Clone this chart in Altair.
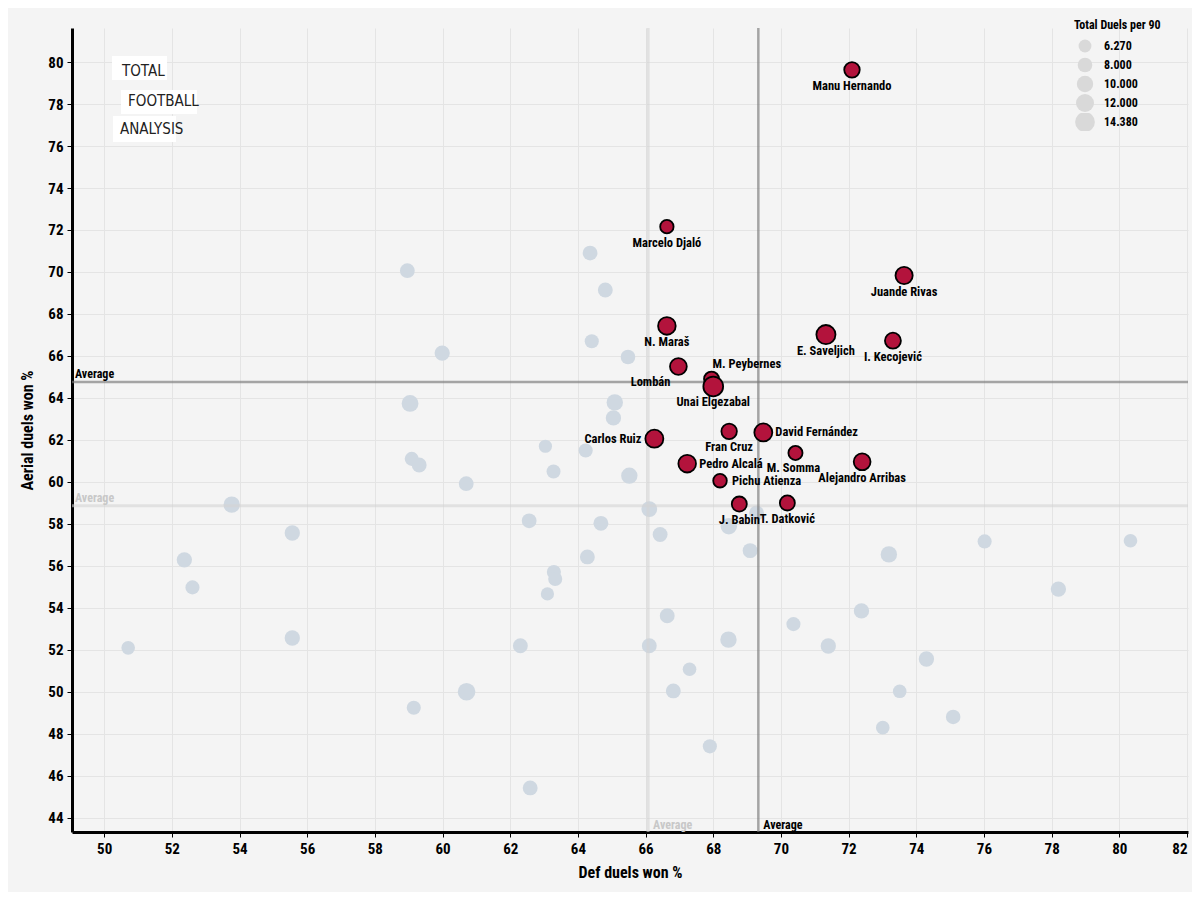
import altair as alt
import pandas as pd

# ---- grey (all other players) ----
gray_x = [58.96, 64.36, 64.81, 64.41, 59.99, 65.48, 59.04, 65.09, 65.05, 63.04,
          64.23, 59.09, 59.31, 63.28, 65.52, 60.70, 66.11, 62.56, 64.68, 66.43,
          53.77, 55.56, 52.37, 52.61, 50.71, 55.56, 59.15, 60.71, 64.28, 63.29,
          63.33, 63.10, 68.46, 69.09, 69.28, 70.37, 66.64, 62.30, 66.11, 68.45,
          67.30, 66.82, 67.90, 62.59, 73.19, 76.02, 80.33, 78.20, 72.38, 71.40,
          74.30, 73.51, 75.09, 73.01]
gray_y = [70.06, 70.90, 69.14, 66.70, 66.14, 65.95, 63.74, 63.79, 63.05, 61.70,
          61.50, 61.10, 60.81, 60.50, 60.30, 59.92, 58.71, 58.15, 58.03, 57.50,
          58.92, 57.57, 56.29, 54.98, 52.10, 52.57, 49.25, 50.01, 56.43, 55.71,
          55.38, 54.67, 57.89, 56.73, 58.52, 53.23, 53.63, 52.20, 52.20, 52.49,
          51.08, 50.05, 47.41, 45.43, 56.55, 57.17, 57.20, 54.90, 53.86, 52.19,
          51.57, 50.03, 48.81, 48.30]
gray_size = [8.2, 8.2, 8.3, 7.5, 8.7, 8.0, 10.5, 10.0, 8.8, 6.6,
             7.5, 7.5, 8.3, 7.4, 10.0, 8.2, 9.3, 8.2, 8.3, 8.3,
             10.0, 8.8, 8.8, 7.5, 7.0, 8.8, 7.5, 11.5, 8.3, 7.5,
             7.5, 6.6, 10.0, 8.3, 8.3, 7.5, 8.3, 8.3, 8.3, 10.0,
             7.0, 8.3, 7.5, 8.3, 10.0, 7.5, 7.0, 8.8, 8.8, 8.8,
             8.8, 7.0, 8.0, 7.0]

# ---- highlighted players ----
names = ["Manu Hernando", "Marcelo Djaló", "Juande Rivas", "N. Maraš", "E. Saveljich",
         "I. Kecojević", "Lombán", "M. Peybernes", "Unai Elgezabal", "Carlos Ruiz",
         "Fran Cruz", "David Fernández", "M. Somma", "Alejandro Arribas", "Pedro Alcalá",
         "Pichu Atienza", "J. Babin", "T. Datković"]
red_x = [72.10, 66.63, 73.64, 66.63, 71.33, 73.31, 66.97, 67.95, 68.00, 66.26,
         68.47, 69.48, 70.43, 72.40, 67.23, 68.20, 68.77, 70.19]
red_y = [79.63, 72.16, 69.83, 67.43, 67.02, 66.73, 65.50, 64.90, 64.55, 62.06,
         62.41, 62.36, 61.38, 60.96, 60.87, 60.06, 58.95, 59.00]
red_size = [9.0, 6.8, 11.0, 11.5, 13.5, 9.5, 10.5, 8.5, 14.38, 12.0,
            9.0, 12.0, 7.5, 10.5, 11.5, 7.0, 8.5, 8.5]
label_pos = ["below", "below", "below", "below", "below",
             "below", "below_left", "above_right", "below", "left",
             "below", "right", "below_l", "below", "right",
             "right", "below", "below"]

legend_values = [6.27, 8, 10, 12, 14.38]

gray_df = pd.DataFrame({"x": gray_x, "y": gray_y, "size": gray_size})
red_df = pd.DataFrame({"name": names, "x": red_x, "y": red_y, "size": red_size, "pos": label_pos})
all_df = pd.concat([gray_df, red_df[["x", "y", "size"]]], ignore_index=True)

FONT = "Liberation Sans Narrow, Roboto Condensed, DejaVu Sans Condensed, sans-serif"
W, H = 1116, 804

xscale = alt.Scale(domain=[49.05, 82.03], nice=False, zero=False)
yscale = alt.Scale(domain=[43.33, 81.62], nice=False, zero=False)
sscale = alt.Scale(domain=[6.27, 14.38], range=[165, 390], zero=False)

xaxis = alt.Axis(title="Def duels won %", values=list(range(50, 83, 2)), labelFlush=4)
yaxis = alt.Axis(title="Aerial duels won %", values=list(range(44, 81, 2)))
legend = alt.Legend(title="Total Duels per 90", values=legend_values, format=".3f",
                    orient="none", legendX=1002, legendY=-8,
                    symbolFillColor="#d9d9d9", symbolStrokeColor="#aaaaaa",
                    symbolStrokeWidth=1.5, symbolOpacity=1, symbolType="circle",
                    rowPadding=1, clipHeight=18, labelOffset=8)

X = alt.X("x:Q", scale=xscale, axis=xaxis)
Y = alt.Y("y:Q", scale=yscale, axis=yaxis)
S = alt.Size("size:Q", scale=sscale, legend=legend)

# empty layer that only defines how the size legend symbols look
legend_style = alt.Chart(gray_df).transform_filter("false").mark_point(
    filled=True, fill="#d9d9d9", stroke="#aaaaaa", strokeWidth=1.5, opacity=1, shape="circle"
).encode(x=X, y=Y, size=S)

gray = alt.Chart(gray_df).mark_circle(color="#cfd8e1", opacity=1).encode(x=X, y=Y, size=S)
red = alt.Chart(red_df).mark_point(filled=True, fill="#b3133c", stroke="black",
                                    strokeWidth=1.8, opacity=1, shape="circle").encode(x=X, y=Y, size=S)

light_vx = alt.Chart(all_df).mark_rule(color="#d4d4d4", strokeWidth=3, opacity=0.6).encode(x="mean(x):Q")
light_hy = alt.Chart(all_df).mark_rule(color="#d4d4d4", strokeWidth=3, opacity=0.6).encode(y="mean(y):Q")
dark_vx = alt.Chart(red_df).mark_rule(color="#7a7a7a", strokeWidth=2.5, opacity=0.65).encode(x="mean(x):Q")
dark_hy = alt.Chart(red_df).mark_rule(color="#7a7a7a", strokeWidth=2.5, opacity=0.65).encode(y="mean(y):Q")

avg_style = dict(font=FONT, fontSize=12, fontWeight="bold", align="left")
light_vx_t = alt.Chart(all_df).mark_text(color="#c8c8c8", dx=5, **avg_style).encode(
    x="mean(x):Q", y=alt.value(H - 7), text=alt.value("Average"))
light_hy_t = alt.Chart(all_df).mark_text(color="#c8c8c8", dy=-8, **avg_style).encode(
    y="mean(y):Q", x=alt.value(3), text=alt.value("Average"))
dark_vx_t = alt.Chart(red_df).mark_text(color="black", dx=5, **avg_style).encode(
    x="mean(x):Q", y=alt.value(H - 7), text=alt.value("Average"))
dark_hy_t = alt.Chart(red_df).mark_text(color="black", dy=-8, **avg_style).encode(
    y="mean(y):Q", x=alt.value(3), text=alt.value("Average"))

placements = {
    "below": dict(align="center", dx=0, dy=16),
    "below_l": dict(align="center", dx=-2, dy=15),
    "left": dict(align="right", dx=-13, dy=0),
    "right": dict(align="left", dx=12, dy=0),
    "above_right": dict(align="left", dx=1, dy=-15),
    "below_left": dict(align="right", dx=-8, dy=16),
}
label_layers = []
for key, p in placements.items():
    label_layers.append(
        alt.Chart(red_df).transform_filter(alt.datum.pos == key).mark_text(
            font=FONT, fontSize=12.5, fontWeight="bold", color="black", baseline="middle", **p
        ).encode(x="x:Q", y="y:Q", text="name:N")
    )

# logo
logo_df = pd.DataFrame({"a": [0]})
logo_boxes = [(40, 28, 95, 52), (49, 62, 125, 86), (41, 88, 104, 114)]
logo_words = [("TOTAL", 50, 43), ("FOOTBALL", 56, 73), ("ANALYSIS", 48, 101)]
logo_layers = []
for (x1, y1, x2, y2) in logo_boxes:
    logo_layers.append(alt.Chart(logo_df).mark_rect(color="white").encode(
        x=alt.value(x1), x2=alt.value(x2), y=alt.value(y1), y2=alt.value(y2)))
for (w, lx, ly) in logo_words:
    logo_layers.append(alt.Chart(logo_df).mark_text(
        font="DejaVu Sans Condensed, sans-serif", fontSize=15, color="#222", align="left",
        baseline="middle").encode(x=alt.value(lx), y=alt.value(ly), text=alt.value(w)))

chart = alt.layer(
    legend_style, gray, *logo_layers, light_vx, light_hy, dark_vx, dark_hy, red,
    light_vx_t, light_hy_t, dark_vx_t, dark_hy_t, *label_layers
).properties(
    width=W, height=H,
    autosize=alt.AutoSizeParams(type="none"),
    padding={"left": 64, "top": 20, "right": 4, "bottom": 60},
    background="#f4f4f4",
).configure_view(stroke=None).configure_axis(
    labelFont=FONT, labelFontSize=15, labelFontWeight="bold", labelColor="black",
    titleFont=FONT, titleFontSize=16, titleFontWeight="bold", titleColor="black",
    domainColor="black", domainWidth=3, tickColor="black", tickSize=5, tickWidth=1,
    gridColor="#e4e4e4", gridWidth=1,
).configure_axisX(labelPadding=4, titlePadding=8).configure_axisY(labelPadding=4, titlePadding=12
).configure_legend(
    titleFont=FONT, titleFontSize=12, titleFontWeight="bold", titleColor="black",
    labelFont=FONT, labelFontSize=12, labelFontWeight="bold", labelColor="black",
)

chart.save("out.html", embed_options={"renderer": "svg", "actions": False})
